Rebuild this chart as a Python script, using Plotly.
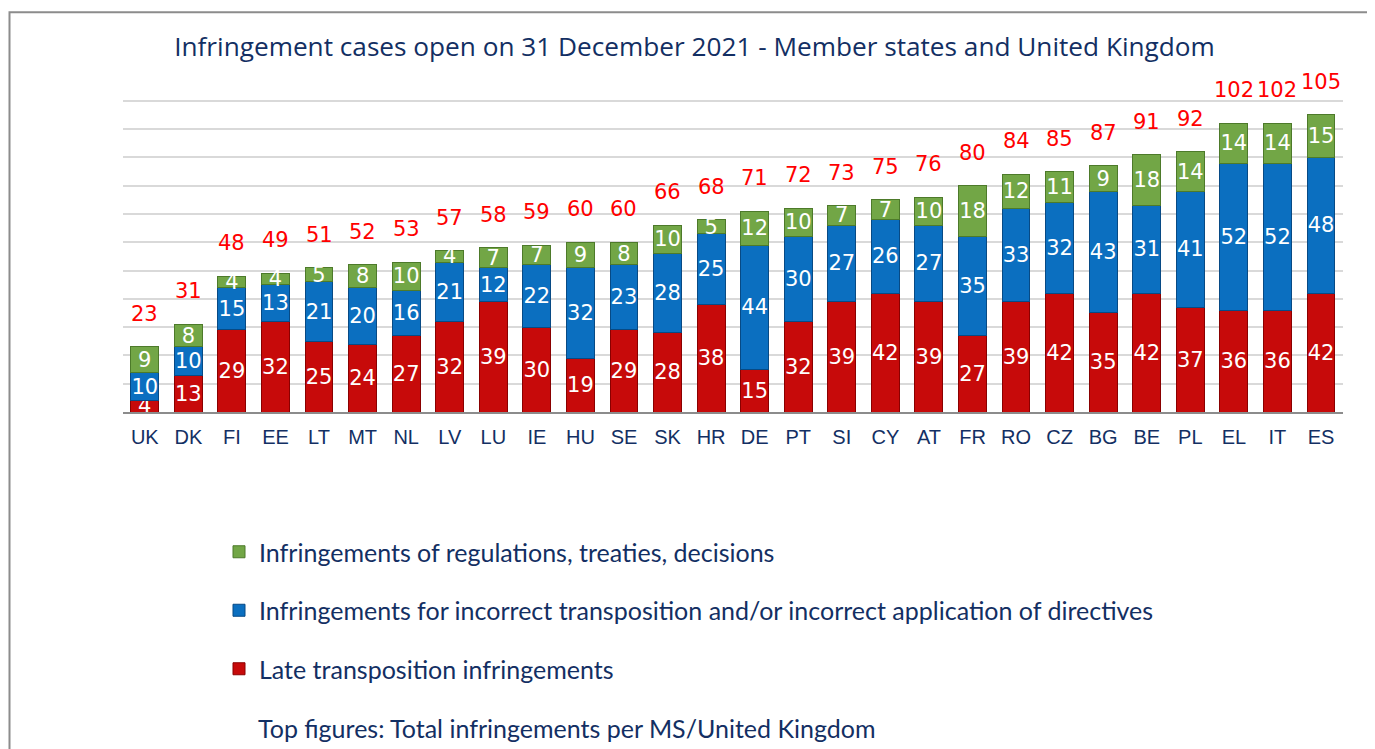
import plotly.graph_objects as go

countries = ["UK", "DK", "FI", "EE", "LT", "MT", "NL", "LV", "LU", "IE", "HU", "SE", "SK", "HR",
             "DE", "PT", "SI", "CY", "AT", "FR", "RO", "CZ", "BG", "BE", "PL", "EL", "IT", "ES"]
late_transposition = [4, 13, 29, 32, 25, 24, 27, 32, 39, 30, 19, 29, 28, 38,
                      15, 32, 39, 42, 39, 27, 39, 42, 35, 42, 37, 36, 36, 42]
incorrect_transposition = [10, 10, 15, 13, 21, 20, 16, 21, 12, 22, 32, 23, 28, 25,
                           44, 30, 27, 26, 27, 35, 33, 32, 43, 31, 41, 52, 52, 48]
regulations = [9, 8, 4, 4, 5, 8, 10, 4, 7, 7, 9, 8, 10, 5,
               12, 10, 7, 7, 10, 18, 12, 11, 9, 18, 14, 14, 14, 15]
totals = [23, 31, 48, 49, 51, 52, 53, 57, 58, 59, 60, 60, 66, 68,
          71, 72, 73, 75, 76, 80, 84, 85, 87, 91, 92, 102, 102, 105]

series = [
    ("Late transposition infringements", late_transposition, "#c70a0a", "#8a0000", 3),
    ("Infringements for incorrect transposition and/or incorrect application of directives",
     incorrect_transposition, "#0b6fc0", "#074a85", 2),
    ("Infringements of regulations, treaties, decisions", regulations, "#72a646", "#4d7a2a", 1),
]

navy = "#132f63"

# page offset (body margin) compensation: figure px = screenshot px - 8
OFF = 8
Y_MAX = 111
unit = (411.7 - 101) / 110
L, R = 123 - OFF, 1375 - (1343 - OFF)
B = 749 - (411.7 - OFF)
T = (411.7 - OFF) - Y_MAX * unit
PW, PH = 1375 - L - R, 749 - T - B


def px_x(sx):
    return (sx - OFF - L) / PW


def px_y(sy):
    return (749 - B - (sy - OFF)) / PH


fig = go.Figure()
for i, (name, vals, col, edge, rank) in enumerate(series):
    fig.add_trace(go.Bar(
        x=countries, y=vals, name=name, legendgroup=f"g{i}", legendrank=rank,
        marker=dict(color=col, line=dict(color=edge, width=1)),
        text=[str(v) for v in vals], textposition="inside", insidetextanchor="middle",
        constraintext="none", textangle=0,
        textfont=dict(family="DejaVu Sans", size=21, color="white"),
        width=0.64,
    ))

for c, t in zip(countries, totals):
    fig.add_annotation(x=c, y=t, text=str(t), showarrow=False, yanchor="bottom", yshift=19,
                       font=dict(family="DejaVu Sans", size=21, color="#ff0000"))

fig.add_annotation(xref="paper", yref="paper", x=px_x(256), y=px_y(727),
                   xanchor="left", yanchor="middle", showarrow=False,
                   text="Top figures: Total infringements per MS/United Kingdom",
                   font=dict(family="Lato", size=25, color=navy))

# outer frame
fig.add_shape(type="rect", xref="paper", yref="paper",
              x0=px_x(9.5), x1=px_x(1369.5), y0=-2, y1=px_y(12.5),
              line=dict(color="#8c8c8c", width=2), layer="below")

fig.update_layout(
    width=1375, height=749,
    margin=dict(l=L, r=R, t=T, b=B, pad=0, autoexpand=False),
    paper_bgcolor="white", plot_bgcolor="white",
    barmode="stack", bargap=0.36,
    title=dict(text="Infringement cases open on 31 December 2021 - Member states and United Kingdom",
               x=(694.5 - OFF) / 1375, xanchor="center", y=1 - (47 - OFF) / 749, yanchor="middle",
               font=dict(family="Open Sans", size=26.2, color=navy)),
    xaxis=dict(showline=True, linecolor="#8c8c8c", linewidth=2, ticks="", showgrid=False,
               tickfont=dict(family="Liberation Sans", size=20, color=navy),
               ticklabelstandoff=6),
    yaxis=dict(range=[0, Y_MAX], dtick=10, showgrid=True, gridcolor="#d9d9d9", gridwidth=2,
               showticklabels=False, zeroline=False, ticks=""),
    legend=dict(orientation="v", traceorder="grouped", tracegroupgap=23,
                xref="container", yref="container",
                x=211 / 1375, xanchor="left", y=1 - 521 / 749, yanchor="top",
                font=dict(family="Lato", size=25, color=navy), bgcolor="rgba(0,0,0,0)"),
)

fig.write_html("out.html")
